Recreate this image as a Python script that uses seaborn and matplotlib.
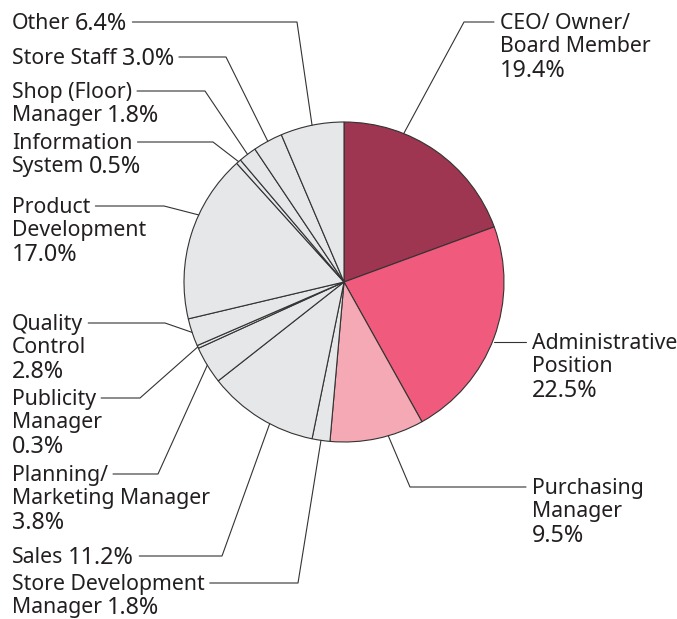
import matplotlib
matplotlib.use("Agg")
import numpy as np
import matplotlib.pyplot as plt
import seaborn as sns

# data
categories = [
    "CEO/ Owner/\nBoard Member", "Administrative\nPosition", "Purchasing\nManager",
    "Store Development\nManager", "Sales", "Planning/\nMarketing Manager",
    "Publicity\nManager", "Quality\nControl", "Product\nDevelopment",
    "Information\nSystem", "Shop (Floor)\nManager", "Store Staff", "Other",
]
shares = [19.4, 22.5, 9.5, 1.8, 11.2, 3.8, 0.3, 2.8, 17.0, 0.5, 1.8, 3.0, 6.4]
# whether the percentage goes on the last text line or on its own line
pct_inline = [False, False, False, True, True, False, False, False, False, True, True, True, True]

# colours
grey = "#e6e7e9"
colors = ["#9e3651", "#ef5a7d", "#f4a9b5"] + [grey] * 10

# layout (pixel coords): text x, first-line centre y, elbow x, anchor-angle tweak
text_x = [500, 532, 532, 12, 12, 12, 12, 12, 12, 12, 12, 12, 12]
text_y = [21, 341, 486, 582, 555, 473, 397, 322, 205, 141, 90, 56, 21]
elbow_x = [464, None, 410, 298, 222, 158, 140, 165, 164, 213, 205, 226, 297]
angle_tweak = [-13, 0, -4, 0, -4, 0, 0, 0, 7.5, 0, 0, 0, 0]

W, H = 677, 619
CX, CY, R = 344, 282, 160
LINE_H = 22.8
PCT_GAP = 1.5
FS_WORD, FS_PCT = 15.3, 16.8

sns.set_theme(style="white")
plt.rcParams["font.family"] = ["Noto Sans", "DejaVu Sans"]

fig = plt.figure(figsize=(W / 100, H / 100), dpi=100)
ax = fig.add_axes([0, 0, 1, 1])

wedges, _ = ax.pie(
    shares, colors=colors, startangle=-90, counterclock=True,
    center=(CX, CY), radius=R,
    wedgeprops=dict(edgecolor="#333333", linewidth=0.8),
)
ax.set_xlim(0, W)
ax.set_ylim(H, 0)
ax.set_aspect("equal")
ax.axis("off")

txt_color = "#231f20"
ln_color = "#333333"
fig.canvas.draw()
renderer = fig.canvas.get_renderer()
inv = ax.transData.inverted()


def right_edge(t):
    bb = t.get_window_extent(renderer=renderer)
    return inv.transform((bb.x1, bb.y0))[0]


for i, (lab, val) in enumerate(zip(categories, shares)):
    lines = lab.split("\n")
    pct = f"{val:.1f}%"
    first_end = None
    for k, s in enumerate(lines):
        y = text_y[i] + k * LINE_H
        t = ax.text(text_x[i], y, s, fontsize=FS_WORD, color=txt_color,
                    ha="left", va="center_baseline")
        end = right_edge(t)
        if pct_inline[i] and k == len(lines) - 1:
            tp = ax.text(end + 5, y, pct, fontsize=FS_PCT, color=txt_color,
                         ha="left", va="center_baseline")
            end = right_edge(tp)
        if k == 0:
            first_end = end
    if not pct_inline[i]:
        y = text_y[i] + len(lines) * LINE_H + PCT_GAP
        ax.text(text_x[i], y, pct, fontsize=FS_PCT, color=txt_color,
                ha="left", va="center_baseline")

    # anchor on the rim
    w = wedges[i]
    ang = np.deg2rad((w.theta1 + w.theta2) / 2 + angle_tweak[i])
    px = CX + R * np.cos(ang)
    py = CY + R * np.sin(ang)
    ly = text_y[i] + 1
    if text_x[i] > CX:
        x0 = text_x[i] - 6
        if elbow_x[i] is None:
            ax.plot([x0, px], [ly, ly], color=ln_color, lw=0.8)
        else:
            ax.plot([x0, elbow_x[i], px], [ly, ly, py], color=ln_color, lw=0.8)
    else:
        x0 = first_end + 5
        ax.plot([x0, elbow_x[i], px], [ly, ly, py], color=ln_color, lw=0.8)

fig.savefig("out.png", dpi=100)
